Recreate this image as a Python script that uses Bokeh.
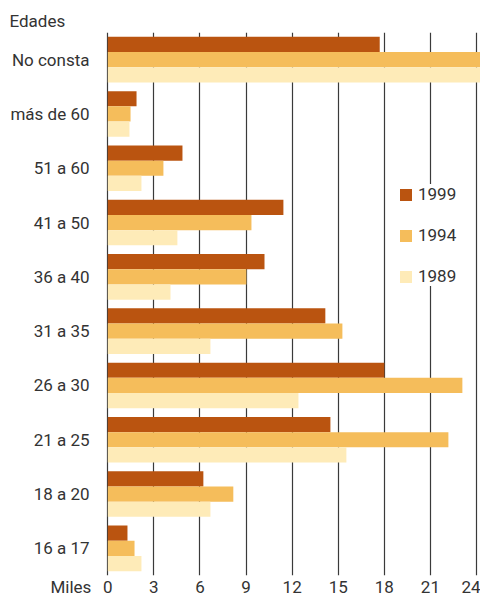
from bokeh.plotting import figure
from bokeh.models import ColumnDataSource, FactorRange, Range1d, FixedTicker, Legend, LegendItem
from bokeh.core.properties import value
from bokeh.transform import dodge
from bokeh.embed import file_html
from bokeh.resources import INLINE

# Data (thousands)
edades = ["16 a 17", "18 a 20", "21 a 25", "26 a 30", "31 a 35",
          "36 a 40", "41 a 50", "51 a 60", "más de 60", "No consta"]
v1999 = [1.28, 6.22, 14.49, 18.0, 14.16, 10.2, 11.43, 4.86, 1.87, 17.7]
v1994 = [1.74, 8.17, 22.17, 23.08, 15.27, 9.02, 9.35, 3.62, 1.48, 27.0]
v1989 = [2.19, 6.68, 15.53, 12.41, 6.68, 4.08, 4.53, 2.19, 1.41, 26.0]
years = ["1999", "1994", "1989"]
colors = ["#BA5410", "#F5BD5B", "#FEEBB8"]
xticks = [0, 3, 6, 9, 12, 15, 18, 21, 24]
unit_label = "Miles"
unit_pos = -2.4

FONT = "Roboto"
FS = "17px"
TXT = "#333333"

src = ColumnDataSource(dict(edad=edades, v1999=v1999, v1994=v1994, v1989=v1989))

p = figure(width=480, height=599, y_range=FactorRange(*edades),
           x_range=Range1d(-6.985, 24.26), output_backend="svg",
           toolbar_location=None, title="Edades",
           min_border_left=0, min_border_right=0, min_border_top=32,
           min_border_bottom=21)
p.outline_line_color = None
p.background_fill_color = "white"
p.yaxis.visible = False

p.title.text_font = FONT
p.title.text_font_size = FS
p.title.text_font_style = "normal"
p.title.text_color = TXT
p.title.offset = 9
p.title.standoff = 4

bh = 0.28
renderers = []
for yr, col, off in zip(years, colors, [bh, 0.0, -bh]):
    r = p.hbar(y=dodge("edad", off, range=p.y_range), right="v" + yr, left=0,
               height=bh, source=src, color=col, line_color=None)
    renderers.append(r)

# category labels (left of the zero line)
p.text(x=-1.19, y="edad", text="edad", source=src, text_align="right",
       text_baseline="middle", text_font=value(FONT), text_font_size=FS,
       text_color=TXT)

p.ygrid.grid_line_color = None
p.xgrid.ticker = FixedTicker(ticks=xticks)
p.xgrid.grid_line_color = "#3a3a3a"
p.xgrid.grid_line_width = 1.2

p.xaxis.ticker = FixedTicker(ticks=[unit_pos] + xticks)
p.xaxis.major_label_overrides = {unit_pos: unit_label}
p.xaxis.axis_line_color = None
p.xaxis.major_tick_line_color = None
p.xaxis.minor_tick_line_color = None
p.xaxis.major_tick_out = 0
p.xaxis.major_tick_in = 0
p.xaxis.major_label_standoff = 1
p.xaxis.major_label_text_font = FONT
p.xaxis.major_label_text_font_size = FS
p.xaxis.major_label_text_color = TXT

legend = Legend(items=[LegendItem(label=y, renderers=[r]) for y, r in zip(years, renderers)],
                location=(398, 289), orientation="vertical",
                glyph_width=15, glyph_height=15, label_height=20, spacing=21,
                label_standoff=5, padding=10, margin=0,
                border_line_color=None, background_fill_color="white",
                background_fill_alpha=1.0,
                label_text_font=FONT, label_text_font_size=FS,
                label_text_color=TXT)
p.add_layout(legend, "center")

open("out.html", "w").write(file_html(p, INLINE))
